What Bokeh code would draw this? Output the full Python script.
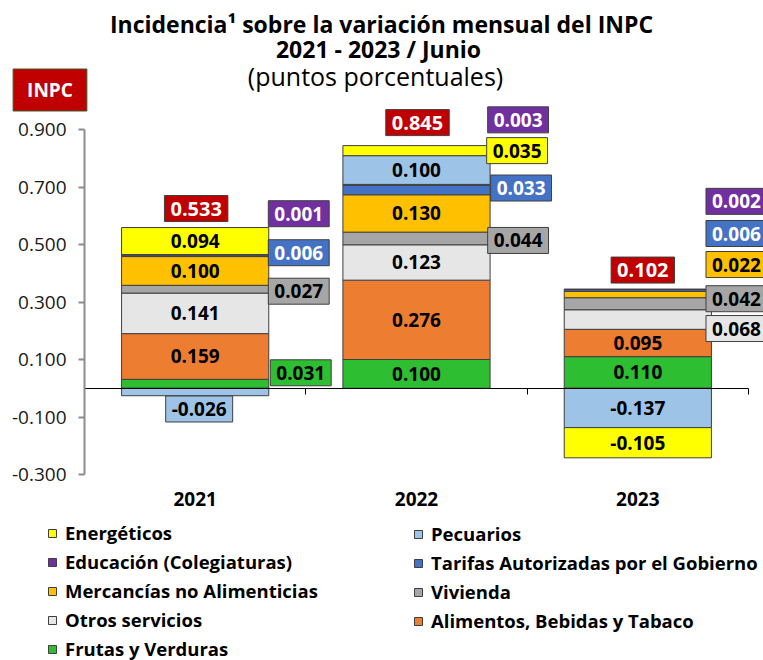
from bokeh.plotting import figure
from bokeh.models import (Range1d, LinearAxis, FixedTicker, NumeralTickFormatter,
                          ColumnDataSource, Legend, LegendItem)
from bokeh.core.properties import value
from bokeh.embed import file_html
from bokeh.resources import INLINE

# ---------------- data ----------------
categories = ["2021", "2022", "2023"]
frutas = [0.031, 0.100, 0.110]
alimentos = [0.159, 0.276, 0.095]
otros = [0.141, 0.123, 0.068]
vivienda = [0.027, 0.044, 0.042]
mercancias = [0.100, 0.130, 0.022]
tarifas = [0.006, 0.033, 0.006]
educacion = [0.001, 0.003, 0.002]
pecuarios = [-0.026, 0.100, -0.137]
energeticos = [0.094, 0.035, -0.105]
inpc = [0.533, 0.845, 0.102]
y_ticks = [-0.3, -0.1, 0.1, 0.3, 0.5, 0.7, 0.9]

series_names = ["Frutas y Verduras", "Alimentos, Bebidas y Tabaco", "Otros servicios",
                "Vivienda", "Mercancías no Alimenticias",
                "Tarifas Autorizadas por el Gobierno", "Educación (Colegiaturas)",
                "Pecuarios", "Energéticos"]
series_values = [frutas, alimentos, otros, vivienda, mercancias, tarifas, educacion,
                 pecuarios, energeticos]

# ---------------- styles / layout ----------------
colors = ["#2DBE32", "#ED7D31", "#E6E6E6", "#A6A6A6", "#FFC000", "#4472C4", "#7030A0",
          "#9DC3E6", "#FFFF00"]
box_text_colors = ["black", "black", "black", "black", "black", "white", "white",
                   "black", "black"]
INPC_COLOR = "#C00000"
EDGE = "#3F3F3F"
FONT = "Open Sans"

IN = None
# label placement: None = inside segment, ("side", dx, dy) boxed right of bar,
# ("mid", dx, dy) boxed at bar centre; offsets in screen pixels
placement = {
    "Frutas y Verduras": [("side", 32, -11), IN, IN],
    "Alimentos, Bebidas y Tabaco": [IN, IN, IN],
    "Otros servicios": [IN, IN, ("side", 25, 9)],
    "Vivienda": [("side", 30, 2), ("side", 28, 2), ("side", 25, -5)],
    "Mercancías no Alimenticias": [IN, IN, ("side", 25, -30)],
    "Tarifas Autorizadas por el Gobierno": [("side", 30, -3), ("side", 31, -2), ("side", 25, -57)],
    "Educación (Colegiaturas)": [("side", 30, -41), ("side", 28, -65), ("side", 25, -88)],
    "Pecuarios": [("mid", 4, 17), IN, IN],
    "Energéticos": [IN, ("side", 27, 0), IN],
}
inpc_offsets = [(1, -19), (1, -23), (5, -19)]
BOX_PAD = dict(left=6, right=6, top=6, bottom=6)

W, H = 763, 660
n = len(categories)
PX_X0, PX_XN = 84.0, 748.0          # screen x of category boundaries 0 and n
PX_YT, PX_YB = 129.0, 474.0         # screen y of top / bottom y tick
Y_TOP, Y_BOT = y_ticks[-1], y_ticks[0]
ux = (PX_XN - PX_X0) / n
uy = (PX_YB - PX_YT) / (Y_TOP - Y_BOT)
x_range = Range1d(0 - PX_X0 / ux, n + (W - PX_XN) / ux)
y_range = Range1d(Y_BOT - (H - PX_YB) / uy, Y_TOP + PX_YT / uy)


def fx(px):
    return x_range.start + px / ux


def fy(py):
    return y_range.end - py / uy


BAR_W = 0.665
xc = [i + 0.5 for i in range(n)]

p = figure(width=W, height=H, x_range=x_range, y_range=y_range,
           x_axis_type=None, y_axis_type=None, output_backend="svg",
           toolbar_location=None, min_border=0, outline_line_color=None,
           background_fill_color="white", border_fill_color="white")

# ---------------- stacked bars ----------------
pos = [0.0] * n
neg = [0.0] * n
renderers = {}
segments = {}
for name, vals, col in zip(series_names, series_values, colors):
    bottoms, tops = [], []
    for i, v in enumerate(vals):
        if v >= 0:
            b, t = pos[i], pos[i] + v
            pos[i] = t
        else:
            t, b = neg[i], neg[i] + v
            neg[i] = b
        bottoms.append(b)
        tops.append(t)
    segments[name] = (bottoms, tops)
    src = ColumnDataSource(dict(x=xc, bottom=bottoms, top=tops))
    renderers[name] = p.vbar(x="x", bottom="bottom", top="top", width=BAR_W, source=src,
                             fill_color=col, line_color=EDGE, line_width=1)

# ---------------- labels ----------------
inside = dict(x=[], y=[], text=[])
boxed = dict(x=[], y=[], text=[], dx=[], dy=[], bg=[], tc=[])
for name, vals, col, tcol in zip(series_names, series_values, colors, box_text_colors):
    bottoms, tops = segments[name]
    for i, v in enumerate(vals):
        mid = (bottoms[i] + tops[i]) / 2
        pl = placement[name][i]
        if pl is None:
            inside["x"].append(xc[i]); inside["y"].append(mid); inside["text"].append(f"{v:.3f}")
        else:
            mode, ox, oy = pl
            bx = xc[i] + BAR_W / 2 if mode == "side" else xc[i]
            boxed["x"].append(bx); boxed["y"].append(mid); boxed["text"].append(f"{v:.3f}")
            boxed["dx"].append(ox); boxed["dy"].append(oy)
            boxed["bg"].append(col); boxed["tc"].append(tcol)

p.text(x="x", y="y", text="text", source=ColumnDataSource(inside),
       text_font=value(FONT), text_font_style="bold", text_font_size="19px",
       text_color="black", text_align="center", text_baseline="middle")

p.text(x="x", y="y", text="text", x_offset="dx", y_offset="dy", source=ColumnDataSource(boxed),
       text_font=value(FONT), text_font_style="bold", text_font_size="19px",
       text_color="tc", text_align="center", text_baseline="middle",
       background_fill_color="bg", border_line_color=EDGE, border_line_width=1,
       padding=BOX_PAD)

inpc_src = ColumnDataSource(dict(x=xc, y=pos, text=[f"{v:.3f}" for v in inpc],
                                 dx=[o[0] for o in inpc_offsets], dy=[o[1] for o in inpc_offsets]))
p.text(x="x", y="y", text="text", x_offset="dx", y_offset="dy", source=inpc_src,
       text_font=value(FONT), text_font_style="bold", text_font_size="20px",
       text_color="white", text_align="center", text_baseline="middle",
       background_fill_color=INPC_COLOR, border_line_color=EDGE, border_line_width=1,
       padding=BOX_PAD)

# INPC badge
p.text(x=[fx(49.5)], y=[fy(89.5)], text=["INPC"],
       text_font=value(FONT), text_font_style="bold", text_font_size="19px",
       text_color="white", text_align="center", text_baseline="middle",
       background_fill_color=INPC_COLOR, border_line_color="#3D5C2E", border_line_width=1,
       padding=dict(left=14, right=14, top=8, bottom=8))

# ---------------- titles ----------------
p.text(x=[fx(381)], y=[fy(23)], text=["Incidencia¹ sobre la variación mensual del INPC"],
       text_font=value(FONT), text_font_style="bold", text_font_size="23px",
       text_color="black", text_align="center", text_baseline="middle")
p.text(x=[fx(378)], y=[fy(48)], text=["2021 - 2023 / Junio"],
       text_font=value(FONT), text_font_style="bold", text_font_size="23px",
       text_color="black", text_align="center", text_baseline="middle")
p.text(x=[fx(375)], y=[fy(75)], text=["(puntos porcentuales)"],
       text_font=value(FONT), text_font_style="normal", text_font_size="25px",
       text_color="black", text_align="center", text_baseline="middle")

# ---------------- axes ----------------
yax = LinearAxis(fixed_location=0, bounds=(Y_BOT, Y_TOP),
                 ticker=FixedTicker(ticks=y_ticks),
                 formatter=NumeralTickFormatter(format="0.000"),
                 axis_line_color="#8C8C8C", axis_line_width=2,
                 major_tick_line_color="#8C8C8C", major_tick_line_width=2,
                 major_tick_in=0, major_tick_out=6, minor_tick_line_color=None,
                 major_label_standoff=12, major_label_text_font=FONT,
                 major_label_text_font_size="19px", major_label_text_color="#1A1A1A")
p.add_layout(yax, "left")

zax = LinearAxis(fixed_location=0, bounds=(0, n),
                 ticker=FixedTicker(ticks=list(range(n + 1))),
                 major_label_overrides={i: "" for i in range(n + 1)},
                 axis_line_color="black", axis_line_width=1,
                 major_tick_line_color="black", major_tick_in=0, major_tick_out=6,
                 minor_tick_line_color=None)
p.add_layout(zax, "below")

cax = LinearAxis(fixed_location=Y_BOT, ticker=FixedTicker(ticks=xc),
                 major_label_overrides={x: c for x, c in zip(xc, categories)},
                 axis_line_color=None, major_tick_line_color=None, minor_tick_line_color=None,
                 major_tick_in=0, major_tick_out=0, major_label_standoff=17,
                 major_label_text_font=FONT, major_label_text_font_style="bold",
                 major_label_text_font_size="19px", major_label_text_color="black")
p.add_layout(cax, "below")

# ---------------- legend ----------------
legend_order = ["Energéticos", "Pecuarios", "Educación (Colegiaturas)",
                "Tarifas Autorizadas por el Gobierno", "Mercancías no Alimenticias",
                "Vivienda", "Otros servicios", "Alimentos, Bebidas y Tabaco",
                "Frutas y Verduras"]


def make_legend(names, loc):
    lg = Legend(items=[LegendItem(label=nm, renderers=[renderers[nm]]) for nm in names],
                location=loc, orientation="vertical", padding=0, margin=0, spacing=4,
                label_height=20, glyph_height=10, glyph_width=10, label_standoff=8,
                border_line_color=None, background_fill_alpha=0,
                label_text_font=FONT, label_text_font_style="bold",
                label_text_font_size="18.5px", label_text_color="black")
    p.add_layout(lg)
    return lg


col1 = legend_order[0::2]
col2 = legend_order[1::2]
make_legend(col1, (47, -1))
make_legend(col2, (413, 27))

open("out.html", "w").write(file_html(p, INLINE))
